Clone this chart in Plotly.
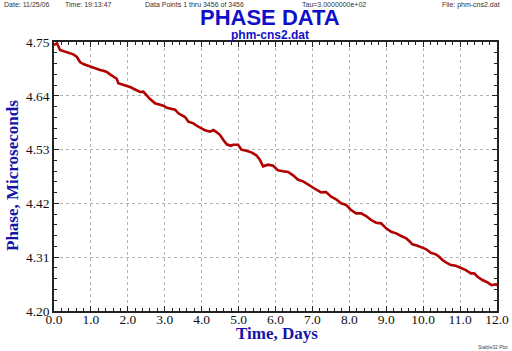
import plotly.graph_objects as go

# Values (days, microseconds)
days = [0.000, 0.081, 0.163, 0.344, 0.523, 0.615, 0.705, 0.794, 0.976, 1.065,
        1.157, 1.247, 1.336, 1.428, 1.518, 1.607, 1.699, 1.743, 1.835, 1.970,
        2.060, 2.149, 2.241, 2.331, 2.420, 2.512, 2.602, 2.737, 2.873, 2.962,
        3.054, 3.190, 3.279, 3.369, 3.461, 3.550, 3.640, 3.775, 3.911, 4.003,
        4.092, 4.228, 4.317, 4.409, 4.499, 4.588, 4.680, 4.789, 4.851, 4.986,
        5.076, 5.211, 5.347, 5.482, 5.575, 5.664, 5.799, 5.935, 6.070, 6.206,
        6.341, 6.477, 6.612, 6.748, 6.883, 7.019, 7.154, 7.236, 7.371, 7.507,
        7.642, 7.778, 7.913, 8.049, 8.184, 8.320, 8.455, 8.591, 8.726, 8.862,
        8.997, 9.133, 9.268, 9.404, 9.539, 9.621, 9.710, 9.846, 9.981, 10.073,
        10.209, 10.344, 10.434, 10.523, 10.615, 10.751, 10.886, 11.022, 11.157, 11.293,
        11.382, 11.472, 11.607, 11.743, 11.851, 11.970, 12.000]
phase = [4.7439, 4.7473, 4.7336, 4.7296, 4.7248, 4.7199, 4.7091, 4.7050, 4.6995, 4.6968,
         4.6942, 4.6927, 4.6913, 4.6887, 4.6839, 4.6790, 4.6749, 4.6655, 4.6627, 4.6600,
         4.6580, 4.6545, 4.6512, 4.6478, 4.6484, 4.6402, 4.6334, 4.6246, 4.6212, 4.6197,
         4.6156, 4.6130, 4.6116, 4.6042, 4.6007, 4.5966, 4.5870, 4.5837, 4.5768, 4.5735,
         4.5694, 4.5666, 4.5700, 4.5653, 4.5598, 4.5496, 4.5408, 4.5379, 4.5400, 4.5400,
         4.5298, 4.5277, 4.5244, 4.5183, 4.5093, 4.4958, 4.4991, 4.4970, 4.4876, 4.4856,
         4.4842, 4.4774, 4.4684, 4.4651, 4.4582, 4.4514, 4.4459, 4.4426, 4.4433, 4.4336,
         4.4283, 4.4201, 4.4167, 4.4064, 4.3997, 4.3997, 4.3942, 4.3860, 4.3805, 4.3792,
         4.3690, 4.3621, 4.3588, 4.3533, 4.3486, 4.3431, 4.3363, 4.3334, 4.3293, 4.3267,
         4.3191, 4.3158, 4.3109, 4.3042, 4.2995, 4.2939, 4.2925, 4.2884, 4.2837, 4.2770,
         4.2770, 4.2700, 4.2633, 4.2586, 4.2531, 4.2545, 4.2516]

title = "PHASE DATA"
subtitle = "phm-cns2.dat"
header = ["Date: 11/25/06", "Time: 19:13:47", "Data Points 1 thru 3456 of 3456",
          "Tau=3.0000000e+02", "File: phm-cns2.dat"]
header_x = [-0.1174, 0.0203, 0.2009, 0.5553, 0.8713]

W, H = 512, 351
L, R, T, B = 54, 15, 42, 40

blue = "#1414a8"
serif = "Liberation Serif, Times New Roman, serif"
sans = "Liberation Sans, Arial, sans-serif"

fig = go.Figure()
fig.add_trace(go.Scatter(x=days, y=phase, mode="lines",
                         line=dict(color="#b00000", width=2.6),
                         hoverinfo="skip", showlegend=False))

axis_common = dict(
    showline=True, linecolor="#222", linewidth=1.5, mirror="allticks",
    ticks="inside", ticklen=5, tickcolor="#222", tickwidth=1,
    showgrid=True, gridcolor="#b4b4b4", gridwidth=1, griddash="dot",
    zeroline=False, automargin=False,
    tickfont=dict(family=serif, size=13.5, color="#111"),
)

fig.update_xaxes(**axis_common, range=[0, 12], tick0=0, dtick=1, tickformat=".1f",
                 ticklabelstandoff=-5,
                 minor=dict(ticks="inside", ticklen=3, tickcolor="#222", dtick=0.2, tick0=0, showgrid=False))
fig.update_yaxes(**axis_common, range=[4.20, 4.75], tick0=4.20, dtick=0.11, tickformat=".2f",
                 minor=dict(ticks="inside", ticklen=3, tickcolor="#222", dtick=0.022, tick0=4.20, showgrid=False))

ann = []
ann.append(dict(text=f"<b>{title}</b>", x=0.4876, y=(311 - 18) / 269, xref="paper", yref="paper",
                showarrow=False, font=dict(family=sans, size=22, color="#1010c8"),
                xanchor="center", yanchor="middle"))
ann.append(dict(text=f"<b>{subtitle}</b>", x=0.4876, y=(311 - 35) / 269, xref="paper", yref="paper",
                showarrow=False, font=dict(family=sans, size=12, color="#1010c8"),
                xanchor="center", yanchor="middle"))
for t, xp in zip(header, header_x):
    ann.append(dict(text=t, x=xp, y=(311 - 5) / 269, xref="paper", yref="paper", showarrow=False,
                    font=dict(family=sans, size=7, color="#333"), xanchor="left", yanchor="middle"))
ann.append(dict(text="Stable32 Plot", x=1.0293, y=-0.1338, xref="paper", yref="paper",
                showarrow=False, font=dict(family=sans, size=5, color="#444"),
                xanchor="right", yanchor="middle"))
ann.append(dict(text="<b>Time, Days</b>", x=0.503, y=(311 - 333) / 269, xref="paper", yref="paper",
                showarrow=False, font=dict(family=serif, size=17, color=blue),
                xanchor="center", yanchor="middle"))
ann.append(dict(text="<b>Phase, Microseconds</b>", x=-0.0926, y=0.5056, xref="paper", yref="paper",
                showarrow=False, textangle=-90, font=dict(family=serif, size=17, color=blue),
                xanchor="center", yanchor="middle"))

fig.update_layout(
    width=W, height=H,
    margin=dict(l=L, r=R, t=T, b=B, pad=0),
    paper_bgcolor="white", plot_bgcolor="white",
    annotations=ann, showlegend=False,
)

fig.write_html("out.html")
